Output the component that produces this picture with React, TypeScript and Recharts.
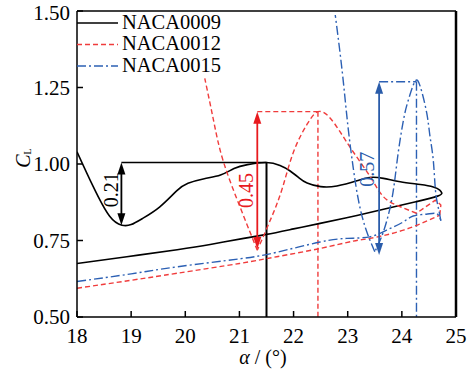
import { LineChart, Line, XAxis, YAxis, ReferenceLine, Legend } from 'recharts';

const alphaTicks = [18, 19, 20, 21, 22, 23, 24, 25];
const clTicks = [0.5, 0.75, 1.0, 1.25, 1.5];
const seriesNames = ['NACA0009', 'NACA0012', 'NACA0015'];

// NACA0009: upper branch out to the tip, lower branch back
const alpha09Upper = [18, 18.3, 18.6, 18.83, 19.0, 19.22, 19.53, 19.84, 20.05, 20.35, 20.65, 20.9, 21.15, 21.5, 21.75, 21.93, 22.1, 22.25, 22.5, 22.8, 23.17, 23.41, 23.66, 23.97, 24.34, 24.58, 24.7, 24.74];
const cl09Upper = [1.04, 0.926, 0.83, 0.8, 0.802, 0.823, 0.86, 0.912, 0.937, 0.952, 0.964, 0.985, 0.998, 1.005, 0.995, 0.978, 0.955, 0.938, 0.926, 0.928, 0.945, 0.956, 0.953, 0.942, 0.933, 0.925, 0.915, 0.905];
const alpha09Lower = [24.74, 24.66, 24.27, 23.78, 23.17, 22.49, 22.0, 21.5, 21.08, 20.46, 19.85, 18.92, 18];
const cl09Lower = [0.905, 0.895, 0.877, 0.857, 0.832, 0.806, 0.788, 0.77, 0.757, 0.737, 0.72, 0.697, 0.675];

// NACA0012
const alpha12Lower = [18, 19, 19.85, 21.0, 21.69, 22.49, 23.1, 23.41, 24.03, 24.58, 24.7];
const cl12Lower = [0.594, 0.62, 0.643, 0.675, 0.697, 0.724, 0.748, 0.757, 0.784, 0.823, 0.833];
const alpha12Tip = [24.7, 24.72, 24.62, 24.27];
const cl12Tip = [0.833, 0.866, 0.882, 0.839];
const alpha12Arc = [24.27, 23.95, 23.66, 23.41, 23.1, 22.86, 22.65, 22.45, 22.25, 22.0, 21.8, 21.6, 21.33];
const cl12Arc = [0.839, 0.862, 0.893, 0.96, 1.04, 1.105, 1.155, 1.171, 1.13, 1.04, 0.925, 0.829, 0.718];
const alpha12Drop = [21.33, 21.23, 21.01, 20.7, 20.52, 20.36];
const cl12Drop = [0.718, 0.762, 0.86, 1.01, 1.144, 1.28];

// NACA0015
const alpha15Lower = [18, 19, 19.85, 21.0, 21.7, 22.49, 23.0, 23.41, 23.72, 24.0, 24.21, 24.45, 24.64, 24.72];
const cl15Lower = [0.616, 0.641, 0.664, 0.69, 0.712, 0.745, 0.757, 0.762, 0.784, 0.808, 0.83, 0.836, 0.838, 0.815];
const alpha15Hump = [24.72, 24.67, 24.62, 24.58, 24.52, 24.46, 24.34, 24.24, 24.12, 24.03, 23.92, 23.82, 23.66, 23.5];
const cl15Hump = [0.815, 0.86, 0.915, 1.013, 1.09, 1.166, 1.253, 1.269, 1.209, 1.144, 1.02, 0.89, 0.779, 0.713];
const alpha15Drop = [23.5, 23.33, 23.2, 23.1, 23.0, 22.9, 22.77];
const cl15Drop = [0.713, 0.79, 0.88, 0.99, 1.13, 1.3, 1.487];

// amplitude markers (arrow at markAlpha, stall line at stallAlpha)
const markAlpha = [18.82, 21.33, 23.58];
const markTop = [1.005, 1.171, 1.269];
const markBottom = [0.8, 0.722, 0.703];
const markLabels = ['0.21', '0.45', '0.57'];
const stallAlpha = [21.5, 22.45, 24.27];

const pts = (a: number[], c: number[]) => a.map((x, i) => ({ alpha: x, cl: c[i] }));

const FONT = 'Liberation Serif, Times New Roman, serif';

const styles = [
  { color: '#000000', dash: undefined as string | undefined, width: 1.6, arrow: '#000000' },
  { color: '#f03c3c', dash: '5 3', width: 1.4, arrow: '#e81a1e' },
  { color: '#2c60b4', dash: '9 3 2 3', width: 1.4, arrow: '#2a5caa' },
];
const labelOffsets = [
  { dx: -10, dy: -4 },
  { dx: -11, dy: 10 },
  { dx: -12, dy: 1 },
];

const segments = [
  { s: 0, data: pts(alpha09Upper, cl09Upper), type: 'natural' },
  { s: 0, data: pts(alpha09Lower, cl09Lower), type: 'natural' },
  { s: 1, data: pts(alpha12Lower, cl12Lower), type: 'natural' },
  { s: 1, data: pts(alpha12Tip, cl12Tip), type: 'linear' },
  { s: 1, data: pts(alpha12Arc, cl12Arc), type: 'natural' },
  { s: 1, data: pts(alpha12Drop, cl12Drop), type: 'natural' },
  { s: 2, data: pts(alpha15Lower, cl15Lower), type: 'natural' },
  { s: 2, data: pts(alpha15Hump, cl15Hump), type: 'natural' },
  { s: 2, data: pts(alpha15Drop, cl15Drop), type: 'natural' },
];

const makeArrow = (i: number) => (props: any) => {
  const { x1, y1, y2 } = props;
  const top = Math.min(y1, y2);
  const bot = Math.max(y1, y2);
  const c = styles[i].arrow;
  const hl = 12;
  const hw = 4;
  const tx = x1 + labelOffsets[i].dx;
  const ty = (top + bot) / 2 + labelOffsets[i].dy;
  return (
    <g>
      <line x1={x1} y1={top + hl - 1} x2={x1} y2={bot - hl + 1} stroke={c} strokeWidth={1.8} />
      <polygon points={`${x1},${top} ${x1 - hw},${top + hl} ${x1 + hw},${top + hl}`} fill={c} />
      <polygon points={`${x1},${bot} ${x1 - hw},${bot - hl} ${x1 + hw},${bot - hl}`} fill={c} />
      <text
        x={tx}
        y={ty}
        transform={`rotate(-90 ${tx} ${ty})`}
        textAnchor="middle"
        dominantBaseline="central"
        fill={c}
        fontSize={20}
        style={{ fontFamily: FONT }}
      >
        {markLabels[i]}
      </text>
    </g>
  );
};

const LegendBox = () => (
  <svg width={150} height={70} style={{ display: 'block' }}>
    {seriesNames.map((name, i) => (
      <g key={name}>
        <line
          x1={0}
          x2={41}
          y1={12 + 21.5 * i}
          y2={12 + 21.5 * i}
          stroke={styles[i].color}
          strokeWidth={1.5}
          strokeDasharray={styles[i].dash}
        />
        <text x={45} y={17.5 + 21.5 * i} fontSize={20.5} style={{ fontFamily: FONT }} fill="#000">
          {name}
        </text>
      </g>
    ))}
  </svg>
);

const XTitle = (props: any) => {
  const vb = props.viewBox;
  const cx = vb.x + vb.width / 2 - 3.5;
  return (
    <text x={cx} y={vb.y + 47} textAnchor="middle" fontSize={20} style={{ fontFamily: FONT }} fill="#000">
      <tspan fontStyle="italic">α</tspan> / (°)
    </text>
  );
};

const YTitle = () => {
  const cx = 30;
  const cy = 158;
  return (
    <text x={cx} y={cy} transform={`rotate(-90 ${cx} ${cy})`} textAnchor="middle" style={{ fontFamily: FONT }} fill="#000">
      <tspan fontSize={20} fontStyle="italic">C</tspan>
      <tspan fontSize={10} dy={1}>L</tspan>
    </text>
  );
};

const tickStyle = { fill: '#000', fontSize: 21, fontFamily: FONT, style: { fontFamily: FONT } };

export default function App() {
  return (
    <div style={{ position: 'absolute', left: 0, top: 0, background: '#fff' }}>
      <LineChart width={467} height={370} margin={{ top: 11, right: 11, bottom: 23, left: 17 }}>
        <XAxis
          type="number"
          dataKey="alpha"
          domain={[18, 25]}
          ticks={alphaTicks}
          allowDataOverflow
          height={30}
          tickSize={-6}
          tickMargin={17}
          axisLine={{ stroke: '#000', strokeWidth: 1.5 }}
          tickLine={{ stroke: '#000', strokeWidth: 1.5 }}
          tick={tickStyle}
          label={XTitle}
        />
        <YAxis
          type="number"
          dataKey="cl"
          domain={[0.5, 1.5]}
          ticks={clTicks}
          allowDataOverflow
          width={60}
          tickSize={-6}
          tickMargin={13}
          tickFormatter={(v: number) => v.toFixed(2)}
          axisLine={{ stroke: '#000', strokeWidth: 1.5 }}
          tickLine={{ stroke: '#000', strokeWidth: 1.5 }}
          tick={tickStyle}
          label={YTitle}
        />
        <ReferenceLine y={1.5} stroke="#000" strokeWidth={1.5} />
        <ReferenceLine x={25} stroke="#000" strokeWidth={2.5} />

        {markAlpha.map((a, i) => (
          <ReferenceLine
            key={`h${i}`}
            segment={[{ x: a, y: markTop[i] }, { x: stallAlpha[i], y: markTop[i] }]}
            stroke={styles[i].color}
            strokeWidth={i === 0 ? 1.5 : 1.4}
            strokeDasharray={styles[i].dash}
          />
        ))}
        {stallAlpha.map((a, i) => (
          <ReferenceLine
            key={`v${i}`}
            segment={[{ x: a, y: markTop[i] }, { x: a, y: 0.5 }]}
            stroke={styles[i].color}
            strokeWidth={i === 0 ? 2 : 1.4}
            strokeDasharray={styles[i].dash}
          />
        ))}

        {segments.map((seg, k) => (
          <Line
            key={`s${k}`}
            data={seg.data}
            dataKey="cl"
            type={seg.type as any}
            stroke={styles[seg.s].color}
            strokeWidth={styles[seg.s].width}
            strokeDasharray={styles[seg.s].dash}
            strokeLinejoin="round"
            dot={false}
            activeDot={false}
            legendType="none"
            isAnimationActive={false}
          />
        ))}

        {markAlpha.map((a, i) => (
          <ReferenceLine
            key={`a${i}`}
            segment={[{ x: a, y: markTop[i] }, { x: a, y: markBottom[i] }]}
            stroke={styles[i].arrow}
            shape={makeArrow(i)}
          />
        ))}

        <Legend
          layout="horizontal"
          verticalAlign="middle"
          align="center"
          wrapperStyle={{ left: 77, top: 11, width: 150, height: 70 }}
          content={LegendBox}
        />
      </LineChart>
    </div>
  );
}
